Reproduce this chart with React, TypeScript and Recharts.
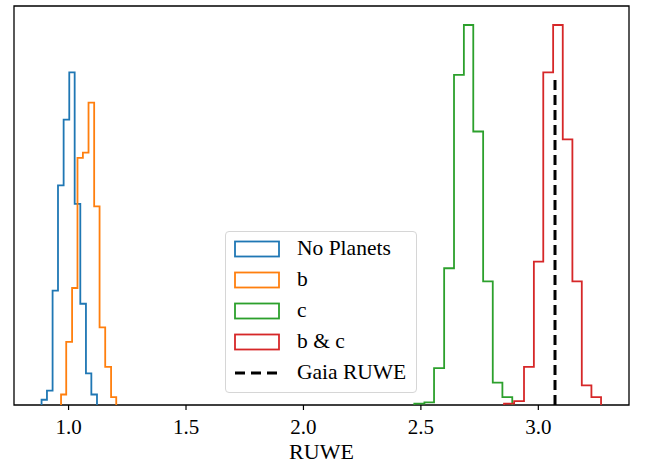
import React from 'react';
import { ComposedChart, Line, XAxis, YAxis, ReferenceArea, Legend, Label } from 'recharts';

// RUWE samples, 10-bin step histograms (1000 draws per case)
const noPlanetEdges = [0.885, 0.908, 0.932, 0.955, 0.979, 1.003, 1.026, 1.05, 1.074, 1.097, 1.121];
const noPlanetCounts = [4, 11, 87, 167, 217, 253, 153, 77, 24, 8];

const bEdges = [0.968, 0.99, 1.015, 1.038, 1.061, 1.085, 1.109, 1.132, 1.156, 1.181, 1.203];
const bCounts = [8, 48, 89, 188, 192, 230, 151, 59, 29, 6];

const cEdges = [2.472, 2.515, 2.556, 2.599, 2.641, 2.683, 2.723, 2.765, 2.806, 2.847, 2.889];
const cCounts = [1, 2, 28, 104, 251, 289, 208, 94, 17, 6];

const bcEdges = [2.854, 2.897, 2.939, 2.981, 3.021, 3.063, 3.104, 3.145, 3.185, 3.226, 3.267];
const bcCounts = [1, 3, 29, 109, 253, 289, 202, 94, 15, 6];

const gaiaRuwe = 3.071;
const gaiaLineTop = 250;

const ruweTicks = [1.0, 1.5, 2.0, 2.5, 3.0];
const xDomain: [number, number] = [0.7677, 3.386];
const yDomain: [number, number] = [0, 303.45];

const FONT = "'Liberation Serif', 'Times New Roman', serif";

const COLORS = {
  none: '#1f77b4',
  b: '#ff7f0e',
  c: '#2ca02c',
  bc: '#d62728',
};

const legendItems = [
  { name: 'No Planets', color: COLORS.none, kind: 'patch' },
  { name: 'b', color: COLORS.b, kind: 'patch' },
  { name: 'c', color: COLORS.c, kind: 'patch' },
  { name: 'b & c', color: COLORS.bc, kind: 'patch' },
  { name: 'Gaia RUWE', color: '#000', kind: 'dash' },
];

// outline of a histogram as a stepAfter path
function stepPoints(edges: number[], counts: number[]) {
  const pts = [{ x: edges[0], y: 0 }];
  counts.forEach((c, i) => pts.push({ x: edges[i], y: c }));
  pts.push({ x: edges[edges.length - 1], y: counts[counts.length - 1] });
  pts.push({ x: edges[edges.length - 1], y: 0 });
  return pts;
}

const series = [
  { key: 'none', color: COLORS.none, data: stepPoints(noPlanetEdges, noPlanetCounts) },
  { key: 'b', color: COLORS.b, data: stepPoints(bEdges, bCounts) },
  { key: 'c', color: COLORS.c, data: stepPoints(cEdges, cCounts) },
  { key: 'bc', color: COLORS.bc, data: stepPoints(bcEdges, bcCounts) },
];

const gaiaLine = [
  { x: gaiaRuwe, y: 0 },
  { x: gaiaRuwe, y: gaiaLineTop },
];

function LegendBox() {
  return (
    <div
      style={{
        width: 190,
        border: '1px solid #d6d6d6',
        borderRadius: 4,
        background: 'rgba(255,255,255,0.8)',
        padding: '1px 0 4px',
        fontFamily: FONT,
        fontSize: 21.5,
        color: '#000',
      }}
    >
      {legendItems.map((it) => (
        <div key={it.name} style={{ display: 'flex', alignItems: 'center', height: 31 }}>
          <svg width={46} height={18} style={{ marginLeft: 8, flex: 'none' }}>
            {it.kind === 'patch' ? (
              <rect x={1} y={1.5} width={44} height={15} fill="none" stroke={it.color} strokeWidth={1.8} />
            ) : (
              <line x1={1} y1={9} x2={45} y2={9} stroke={it.color} strokeWidth={3} strokeDasharray="10 6" />
            )}
          </svg>
          <span style={{ marginLeft: 17, lineHeight: 1 }}>{it.name}</span>
        </div>
      ))}
    </div>
  );
}

export default function App() {
  return (
    <div style={{ position: 'absolute', left: 0, top: 0, width: 647, height: 465, background: '#fff' }}>
      <ComposedChart width={647} height={465} margin={{ top: 6, right: 18, left: 14, bottom: 0 }}>
        <XAxis
          type="number"
          dataKey="x"
          domain={xDomain}
          allowDataOverflow
          ticks={ruweTicks}
          tickFormatter={(v: number) => v.toFixed(1)}
          height={60}
          tickSize={5}
          tickMargin={9}
          axisLine={false}
          tickLine={{ stroke: '#000', strokeWidth: 1.2 }}
          tick={{ fill: '#000', fontSize: 21, fontFamily: FONT }}
        >
          <Label
            content={({ viewBox }: any) => (
              <text
                x={viewBox.x + viewBox.width / 2}
                y={459}
                textAnchor="middle"
                fill="#000"
                fontSize={22}
                fontFamily={FONT}
              >
                RUWE
              </text>
            )}
          />
        </XAxis>
        <YAxis type="number" dataKey="y" domain={yDomain} allowDataOverflow hide />
        {series.map((s) => (
          <Line
            key={s.key}
            data={s.data}
            dataKey="y"
            type="stepAfter"
            stroke={s.color}
            strokeWidth={1.8}
            dot={false}
            activeDot={false}
            isAnimationActive={false}
          />
        ))}
        <Line
          data={gaiaLine}
          dataKey="y"
          type="linear"
          stroke="#000"
          strokeWidth={3}
          strokeDasharray="10 5"
          dot={false}
          activeDot={false}
          isAnimationActive={false}
        />
        <ReferenceArea
          x1={xDomain[0]}
          x2={xDomain[1]}
          y1={yDomain[0]}
          y2={yDomain[1]}
          fill="none"
          stroke="#000"
          strokeWidth={1.3}
        />
        <Legend
          layout="vertical"
          align="center"
          verticalAlign="middle"
          wrapperStyle={{ left: 225, top: 231, width: 'auto' }}
          content={() => <LegendBox />}
        />
      </ComposedChart>
    </div>
  );
}
